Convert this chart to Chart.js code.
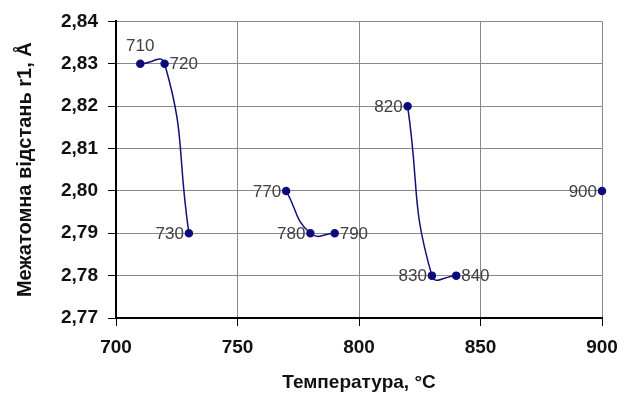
<!DOCTYPE html>
<html>
<head>
<meta charset="utf-8">
<script src="https://cdn.jsdelivr.net/npm/chart.js@4"></script>
<style>
  html, body { margin: 0; padding: 0; background: #fff; }
  #wrap { width: 634px; height: 394px; }
</style>
</head>
<body>
<div id="wrap"><canvas id="chart" width="634" height="394"></canvas></div>
<script>
// temperaturen (x) en afstanden (y); null = onderbreking van de lijn
var temperatures = [710, 720, 730, null, 770, 780, 790, null, 820, 830, 840, null, 900];
var distances    = [2.83, 2.83, 2.79, null, 2.80, 2.79, 2.79, null, 2.82, 2.78, 2.78, null, 2.80];
var xTicks = [700, 750, 800, 850, 900];
var yTicks = [2.77, 2.78, 2.79, 2.80, 2.81, 2.82, 2.83, 2.84];

// waar het label naast het punt komt
var labelSide = ['topleft', 'right', 'left', null, 'left', 'left', 'right', null, 'left', 'left', 'right', null, 'left'];

var points = [];
for (var i = 0; i < temperatures.length; i++) {
    if (temperatures[i] == null) {
        points.push({ x: (temperatures[i - 1] + temperatures[i + 1]) / 2, y: null });
    } else {
        points.push({ x: temperatures[i], y: distances[i] });
    }
}

var fontFamily = 'Arial, "Liberation Sans", sans-serif';

// eigen plugin om de x-waarden bij de punten te zetten
var pointLabels = {
    id: 'pointLabels',
    afterDatasetsDraw: function (chart) {
        var meta = chart.getDatasetMeta(0);
        var ctx = chart.ctx;
        ctx.save();
        ctx.font = '17px ' + fontFamily;
        ctx.fillStyle = '#404040';
        ctx.textBaseline = 'middle';
        meta.data.forEach(function (el, i) {
            if (distances[i] == null) return;
            var side = labelSide[i];
            var text = String(temperatures[i]);
            if (side == 'left') {
                ctx.textAlign = 'right';
                ctx.fillText(text, el.x - 5, el.y + 1);
            } else if (side == 'right') {
                ctx.textAlign = 'left';
                ctx.fillText(text, el.x + 5, el.y + 1);
            } else {
                ctx.textAlign = 'center';
                ctx.fillText(text, el.x, el.y - 17);
            }
        });
        ctx.restore();
    }
};

new Chart(document.getElementById('chart'), {
    type: 'line',
    data: {
        datasets: [{
            data: points,
            borderColor: '#10107c',
            backgroundColor: '#0a0a7a',
            borderWidth: 1.5,
            pointRadius: 3.5,
            pointHoverRadius: 3.5,
            tension: 0.5,
            spanGaps: false,
            clip: false,
            fill: false
        }]
    },
    options: {
        responsive: false,
        animation: false,
        layout: { padding: { left: 0, right: 32, top: 16, bottom: 0 } },
        plugins: { legend: { display: false }, tooltip: { enabled: false } },
        scales: {
            x: {
                type: 'linear',
                min: 700, max: 900,
                afterBuildTicks: function (axis) { axis.ticks = xTicks.map(function (v) { return { value: v }; }); },
                afterFit: function (axis) { axis.height = 76; },
                border: { color: '#000', width: 2 },
                grid: { color: '#8a8a8a', lineWidth: 1, tickLength: 8, tickColor: '#000' },
                ticks: { color: '#111', font: { family: fontFamily, size: 19, weight: 'bold' }, padding: 10, maxRotation: 0 },
                title: { display: true, text: 'Температура, °С', color: '#111', font: { family: fontFamily, size: 19, weight: 'bold' }, padding: { top: 4, bottom: 0 } }
            },
            y: {
                min: 2.77, max: 2.84,
                afterBuildTicks: function (axis) { axis.ticks = yTicks.map(function (v) { return { value: v }; }); },
                afterFit: function (axis) { axis.width = 116; },
                border: { color: '#000', width: 2 },
                grid: { color: '#8a8a8a', lineWidth: 1, tickLength: 8, tickColor: '#000' },
                ticks: {
                    color: '#111', font: { family: fontFamily, size: 19, weight: 'bold' }, padding: 10,
                    callback: function (v) { return v.toFixed(2).replace('.', ','); }
                },
                title: { display: true, text: 'Межатомна відстань r1, Å', color: '#111', font: { family: fontFamily, size: 20, weight: 'bold' }, padding: { top: 13, bottom: 4 } }
            }
        }
    },
    plugins: [pointLabels]
});
</script>
</body>
</html>
